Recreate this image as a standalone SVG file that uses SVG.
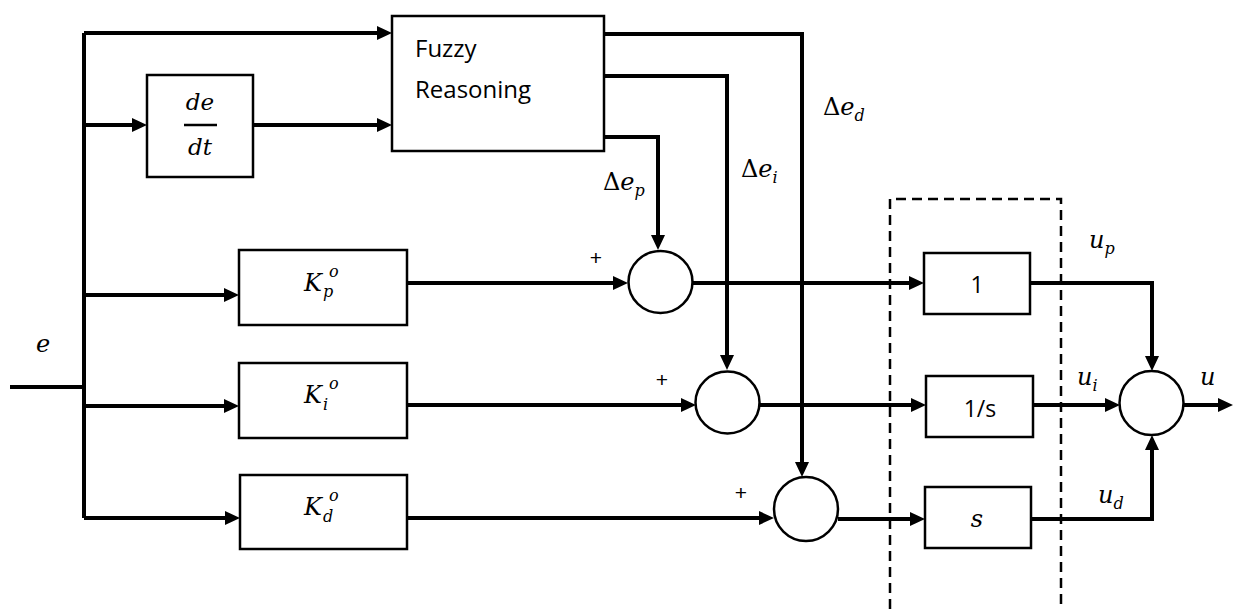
<svg xmlns="http://www.w3.org/2000/svg" width="1235" height="609" viewBox="0 0 1235 609">
<style>
.box{fill:#fff;stroke:#000;stroke-width:2.5}
.sum{fill:#fff;stroke:#000;stroke-width:2.5}
.ln{fill:none;stroke:#000;stroke-width:4;stroke-linejoin:miter}
.arr{marker-end:url(#ah)}
.dash{fill:none;stroke:#000;stroke-width:2.5;stroke-dasharray:10 6}
.sans{font-family:"Open Sans","Liberation Sans",sans-serif;fill:#000}
.math{font-family:"DejaVu Serif","Liberation Serif",serif;font-style:italic;fill:#000}
.up{font-style:normal}
.plus{font-family:"Liberation Sans",sans-serif;font-size:21px;text-anchor:middle}
</style>
<defs>
<marker id="ah" markerWidth="15" markerHeight="14" refX="5" refY="7" orient="auto" markerUnits="userSpaceOnUse">
<path d="M0,0 L15,7 L0,14 z" fill="#000"/>
</marker>
</defs>
<rect width="1235" height="609" fill="#fff"/>
<g id="connectors">
<path class="ln" d="M84,518 V33"/>
<path class="ln" d="M10,387 H84"/>
<path class="ln arr" d="M84,33 H382"/>
<path class="ln arr" d="M84,125 H137"/>
<path class="ln arr" d="M253,125 H382"/>
<path class="ln arr" d="M84,295 H229"/>
<path class="ln arr" d="M84,406 H229"/>
<path class="ln arr" d="M84,518 H230"/>
<path class="ln arr" d="M407,283 H618"/>
<path class="ln arr" d="M407,405 H686"/>
<path class="ln arr" d="M407,518 H764"/>
<path class="ln arr" d="M604,137 H658 V240"/>
<path class="ln arr" d="M604,76 H727 V360"/>
<path class="ln arr" d="M604,34 H802 V467"/>
<path class="ln arr" d="M693,283 H914"/>
<path class="ln arr" d="M759,405 H916"/>
<path class="ln arr" d="M838,519 H915"/>
<path class="ln arr" d="M1030,283 H1152 V361"/>
<path class="ln arr" d="M1033,405 H1110"/>
<path class="ln arr" d="M1031,519 H1152 V445"/>
<path class="ln arr" d="M1183,405 H1223"/>
</g>
<g id="dashed-region"><path class="dash" d="M890,609 V199 H1061 V609"/></g>
<g id="fuzzy">
<rect class="box" x="392" y="16" width="212" height="135"/>
<text class="sans" x="415" y="57" font-size="24">Fuzzy</text>
<text class="sans" x="415" y="98" font-size="24">Reasoning</text>
</g>
<g id="dedt">
<rect class="box" x="147" y="75" width="106" height="102"/>
<text class="math" x="200" y="110" font-size="23" text-anchor="middle">de</text>
<line x1="184" y1="125" x2="217" y2="125" stroke="#000" stroke-width="2.5"/>
<text class="math" x="200" y="155" font-size="23" text-anchor="middle">dt</text>
</g>
<g id="kp">
<rect class="box" x="239" y="250" width="168" height="75"/>
<text class="math" x="304" y="291" font-size="24">K</text>
<text class="math" x="329" y="277" font-size="16">o</text>
<text class="math" x="323" y="297" font-size="16">p</text>
</g>
<g id="ki">
<rect class="box" x="239" y="363" width="168" height="75"/>
<text class="math" x="304" y="403" font-size="24">K</text>
<text class="math" x="329" y="389" font-size="16">o</text>
<text class="math" x="323" y="410" font-size="16">i</text>
</g>
<g id="kd">
<rect class="box" x="240" y="475" width="167" height="74"/>
<text class="math" x="304" y="515" font-size="24">K</text>
<text class="math" x="329" y="501" font-size="16">o</text>
<text class="math" x="323" y="522" font-size="16">d</text>
</g>
<g id="sum-p"><ellipse class="sum" cx="660.5" cy="282" rx="32" ry="31"/><text class="plus" x="596" y="265">+</text></g>
<g id="sum-i"><ellipse class="sum" cx="727.5" cy="402.5" rx="32" ry="31"/><text class="plus" x="662" y="387">+</text></g>
<g id="sum-d"><ellipse class="sum" cx="806" cy="509" rx="32" ry="32"/><text class="plus" x="741" y="500">+</text></g>
<g id="sum-out"><ellipse class="sum" cx="1151.5" cy="403" rx="32" ry="32"/></g>
<g id="block-1"><rect class="box" x="924" y="253" width="106" height="61"/><text class="sans" x="977" y="293" font-size="23" text-anchor="middle">1</text></g>
<g id="block-1s"><rect class="box" x="926" y="376" width="107" height="61"/><text class="sans" x="980" y="417" font-size="23" text-anchor="middle">1/s</text></g>
<g id="block-s"><rect class="box" x="925" y="487" width="106" height="61"/><text class="math" x="977" y="527" font-size="24" text-anchor="middle">s</text></g>
<g id="labels">
<text class="math" x="36" y="352" font-size="24">e</text>
<text class="math" x="603" y="190" font-size="24"><tspan class="up">Δ</tspan>e<tspan font-size="16" dy="6">p</tspan></text>
<text class="math" x="741" y="177" font-size="24"><tspan class="up">Δ</tspan>e<tspan font-size="16" dy="6">i</tspan></text>
<text class="math" x="823" y="115" font-size="24"><tspan class="up">Δ</tspan>e<tspan font-size="16" dy="6">d</tspan></text>
<text class="math" x="1089" y="248" font-size="24">u<tspan font-size="16" dy="6">p</tspan></text>
<text class="math" x="1077" y="385" font-size="24">u<tspan font-size="16" dy="6">i</tspan></text>
<text class="math" x="1200" y="385" font-size="24">u</text>
<text class="math" x="1098" y="503" font-size="24">u<tspan font-size="16" dy="6">d</tspan></text>
</g>
</svg>
